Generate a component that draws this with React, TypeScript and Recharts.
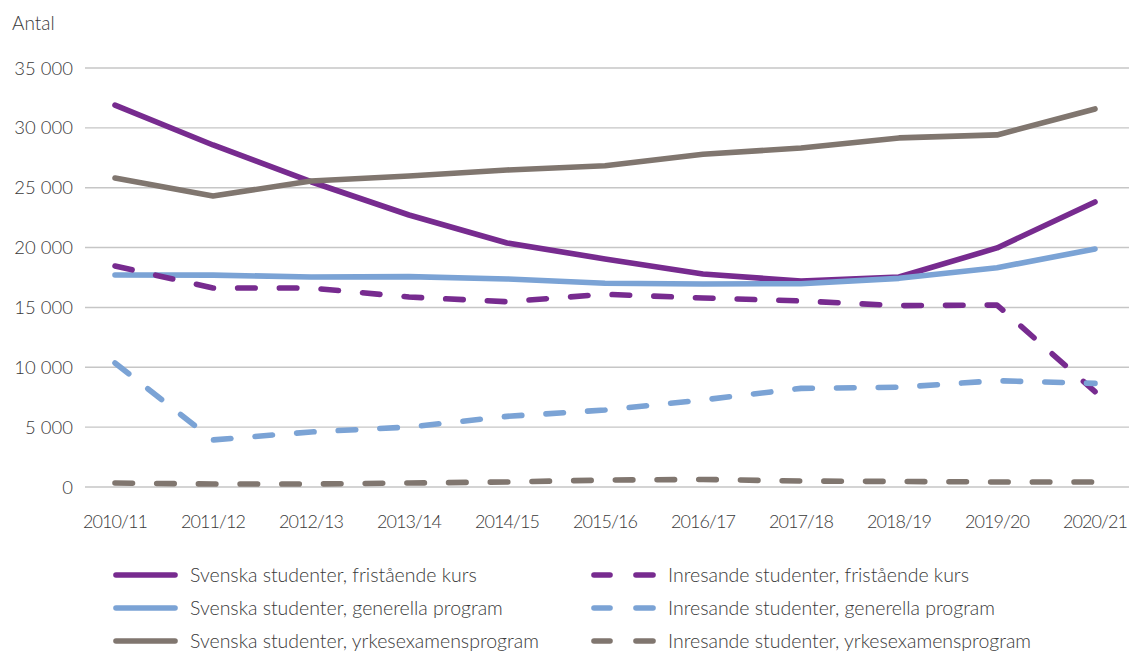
import React from 'react';
import { LineChart, Line, XAxis, YAxis, CartesianGrid } from 'recharts';

const years = ['2010/11', '2011/12', '2012/13', '2013/14', '2014/15', '2015/16', '2016/17', '2017/18', '2018/19', '2019/20', '2020/21'];
const svFristaende = [31900, 28570, 25500, 22720, 20380, 19050, 17790, 17210, 17540, 19970, 23810];
const svGenerella = [17710, 17700, 17540, 17570, 17380, 17020, 16960, 16980, 17430, 18320, 19880];
const svYrkes = [25810, 24310, 25560, 25980, 26480, 26840, 27790, 28320, 29160, 29410, 31580];
const inFristaende = [18460, 16620, 16620, 15870, 15480, 16100, 15790, 15540, 15150, 15200, 7960];
const inGenerella = [10360, 3930, 4600, 5010, 5900, 6430, 7270, 8240, 8330, 8880, 8660];
const inYrkes = [330, 250, 250, 330, 420, 580, 630, 500, 460, 420, 420];
const yTicks = [0, 5000, 10000, 15000, 20000, 25000, 30000, 35000];

const PURPLE = '#772b8f';
const BLUE = '#7ba3d5';
const GRAY = '#80766f';
const FONT = 'Lato, "Open Sans", sans-serif';
const TEXT = '#3a3a3a';

const data = years.map((y, i) => ({
  year: y,
  svF: svFristaende[i],
  svG: svGenerella[i],
  svY: svYrkes[i],
  inF: inFristaende[i],
  inG: inGenerella[i],
  inY: inYrkes[i],
}));

const series = [
  { key: 'svF', name: 'Svenska studenter, fristående kurs', color: PURPLE, dashed: false },
  { key: 'svG', name: 'Svenska studenter, generella program', color: BLUE, dashed: false },
  { key: 'svY', name: 'Svenska studenter, yrkesexamensprogram', color: GRAY, dashed: false },
  { key: 'inF', name: 'Inresande studenter, fristående kurs', color: PURPLE, dashed: true },
  { key: 'inG', name: 'Inresande studenter, generella program', color: BLUE, dashed: true },
  { key: 'inY', name: 'Inresande studenter, yrkesexamensprogram', color: GRAY, dashed: true },
];

const fmt = (v: number) => {
  const s = String(v);
  if (s.length <= 3) return s;
  return s.slice(0, s.length - 3) + ' ' + s.slice(s.length - 3);
};

const rowY = [575, 608, 641];
const LW = 5.6;

function Legend() {
  return (
    <>
      <svg width={1129} height={651} style={{ position: 'absolute', left: 0, top: 0, pointerEvents: 'none' }}>
        {series.map((s, i) => {
          const y = rowY[i % 3];
          if (!s.dashed) {
            return <line key={s.key} x1={116} y1={y} x2={175} y2={y} stroke={s.color} strokeWidth={LW} strokeLinecap="round" />;
          }
          return (
            <g key={s.key}>
              <line x1={594} y1={y} x2={610} y2={y} stroke={s.color} strokeWidth={LW} strokeLinecap="round" />
              <line x1={636} y1={y} x2={653} y2={y} stroke={s.color} strokeWidth={LW} strokeLinecap="round" />
            </g>
          );
        })}
      </svg>
      {series.map((s, i) => (
        <div
          key={s.key}
          style={{
            position: 'absolute',
            left: s.dashed ? 668 : 190,
            top: rowY[i % 3] - 13,
            height: 26,
            lineHeight: '26px',
            fontFamily: FONT,
            fontSize: 19.5,
            fontWeight: 300,
            color: TEXT,
            whiteSpace: 'nowrap',
          }}
        >
          {s.name}
        </div>
      ))}
    </>
  );
}

export default function App() {
  return (
    <div style={{ position: 'absolute', left: 0, top: 0, width: 1129, height: 651, background: '#fff' }}>
      <div style={{ position: 'absolute', left: 12, top: 11, fontFamily: FONT, fontSize: 19, fontWeight: 300, color: TEXT }}>Antal</div>
      <LineChart width={1129} height={651} data={data} margin={{ top: 68, right: 0, bottom: 134, left: 0 }}>
        <CartesianGrid horizontal vertical={false} stroke="#c6c6c6" strokeWidth={1.4} />
        <XAxis
          dataKey="year"
          height={30}
          axisLine={false}
          tickLine={false}
          tickSize={0}
          tickMargin={28}
          padding={{ left: 30, right: 34 }}
          interval={0}
          tick={{ fontFamily: FONT, fontSize: 18, fontWeight: 300, fill: TEXT, letterSpacing: -0.9 }}
        />
        <YAxis
          width={85}
          domain={[0, 35000]}
          ticks={yTicks}
          axisLine={false}
          tickLine={false}
          tickSize={0}
          tickMargin={12}
          tickFormatter={fmt}
          tick={{ fontFamily: FONT, fontSize: 18.5, fontWeight: 300, fill: TEXT }}
        />
        {series.map((s) => (
          <Line
            key={s.key}
            dataKey={s.key}
            name={s.name}
            stroke={s.color}
            strokeWidth={LW}
            strokeLinecap="round"
            strokeLinejoin="round"
            strokeDasharray={s.dashed ? '17.5 24.2' : undefined}
            dot={false}
            activeDot={false}
            type="linear"
            isAnimationActive={false}
          />
        ))}
      </LineChart>
      <Legend />
    </div>
  );
}
